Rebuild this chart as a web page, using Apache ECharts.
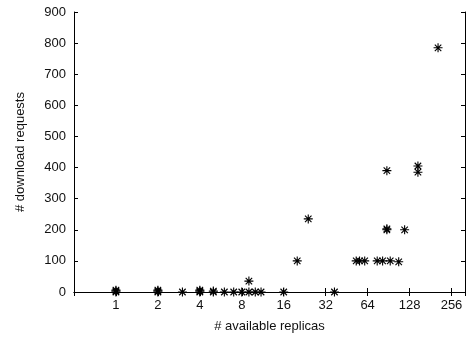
<!DOCTYPE html>
<html>
<head>
<meta charset="utf-8">
<script src="https://cdn.jsdelivr.net/npm/echarts@6/dist/echarts.min.js"></script>
<style>html,body{margin:0;padding:0;background:#fff}#c{width:470px;height:339px}</style>
</head>
<body>
<div id="c"></div>
<script>
// # available replicas (x) and # download requests (y)
const replicas = [1,1,1,2,2,2,3,4,4,4,5,5,6,7,8,9,9,10,11,16,20,24,37,53,56,61,75,82,88,88,88,93,107,118,147,147,205];
const requests = [0,3,6,0,3,6,0,0,3,6,0,3,0,0,0,0,35,0,0,0,100,235,0,100,100,100,100,100,200,203,390,100,97,200,385,405,785];
const yTicks = [0,100,200,300,400,500,600,700,800,900];
const xTicks = [1,2,4,8,16,32,64,128,256];

const pts = replicas.map((x,i)=>[x,requests[i]]);
const font = {fontFamily:'Liberation Sans, Arial, sans-serif', fontSize:13, color:'#111'};
const star = 'path://M0,-1L0,1M-1,0L1,0M-0.72,-0.72L0.72,0.72M-0.72,0.72L0.72,-0.72';
const xBase = {
  type:'log', logBase:2, min:0.5, max:320, interval:1,
  axisLine:{show:true,lineStyle:{color:'#000',width:1}},
  axisTick:{show:true,inside:true,length:4,lineStyle:{color:'#000'}},
  splitLine:{show:false}
};
const yBase = {
  type:'value', min:0, max:900, interval:100,
  axisLine:{show:true,lineStyle:{color:'#000',width:1}},
  axisTick:{show:true,inside:true,length:4,lineStyle:{color:'#000'}},
  splitLine:{show:false}
};
const chart = echarts.init(document.getElementById('c'), null, {renderer:'canvas'});
chart.setOption({
  animation:false,
  grid:{left:74,right:5,top:12,bottom:47},
  xAxis:[
    Object.assign({}, xBase, {
      position:'bottom',
      name:'# available replicas', nameLocation:'middle', nameGap:28,
      nameTextStyle:font,
      axisLabel:Object.assign({margin:7, formatter:v=> xTicks.indexOf(Math.round(v))>=0 && Math.abs(v-Math.round(v))<1e-6 ? String(Math.round(v)) : ''}, font)
    }),
    Object.assign({}, xBase, {position:'top', axisLabel:{show:false}})
  ],
  yAxis:[
    Object.assign({}, yBase, {
      position:'left',
      name:'# download requests', nameLocation:'middle', nameGap:47,
      nameTextStyle:font,
      axisLabel:Object.assign({margin:8, formatter:v=> yTicks.indexOf(v)>=0 ? String(v) : ''}, font)
    }),
    Object.assign({}, yBase, {position:'right', axisLabel:{show:false}})
  ],
  series:[{
    type:'scatter', xAxisIndex:0, yAxisIndex:0,
    data:pts, symbol:star, symbolSize:9,
    itemStyle:{color:'rgba(0,0,0,0)', borderColor:'#000', borderWidth:1.1, opacity:1}
  }]
});
</script>
</body>
</html>
